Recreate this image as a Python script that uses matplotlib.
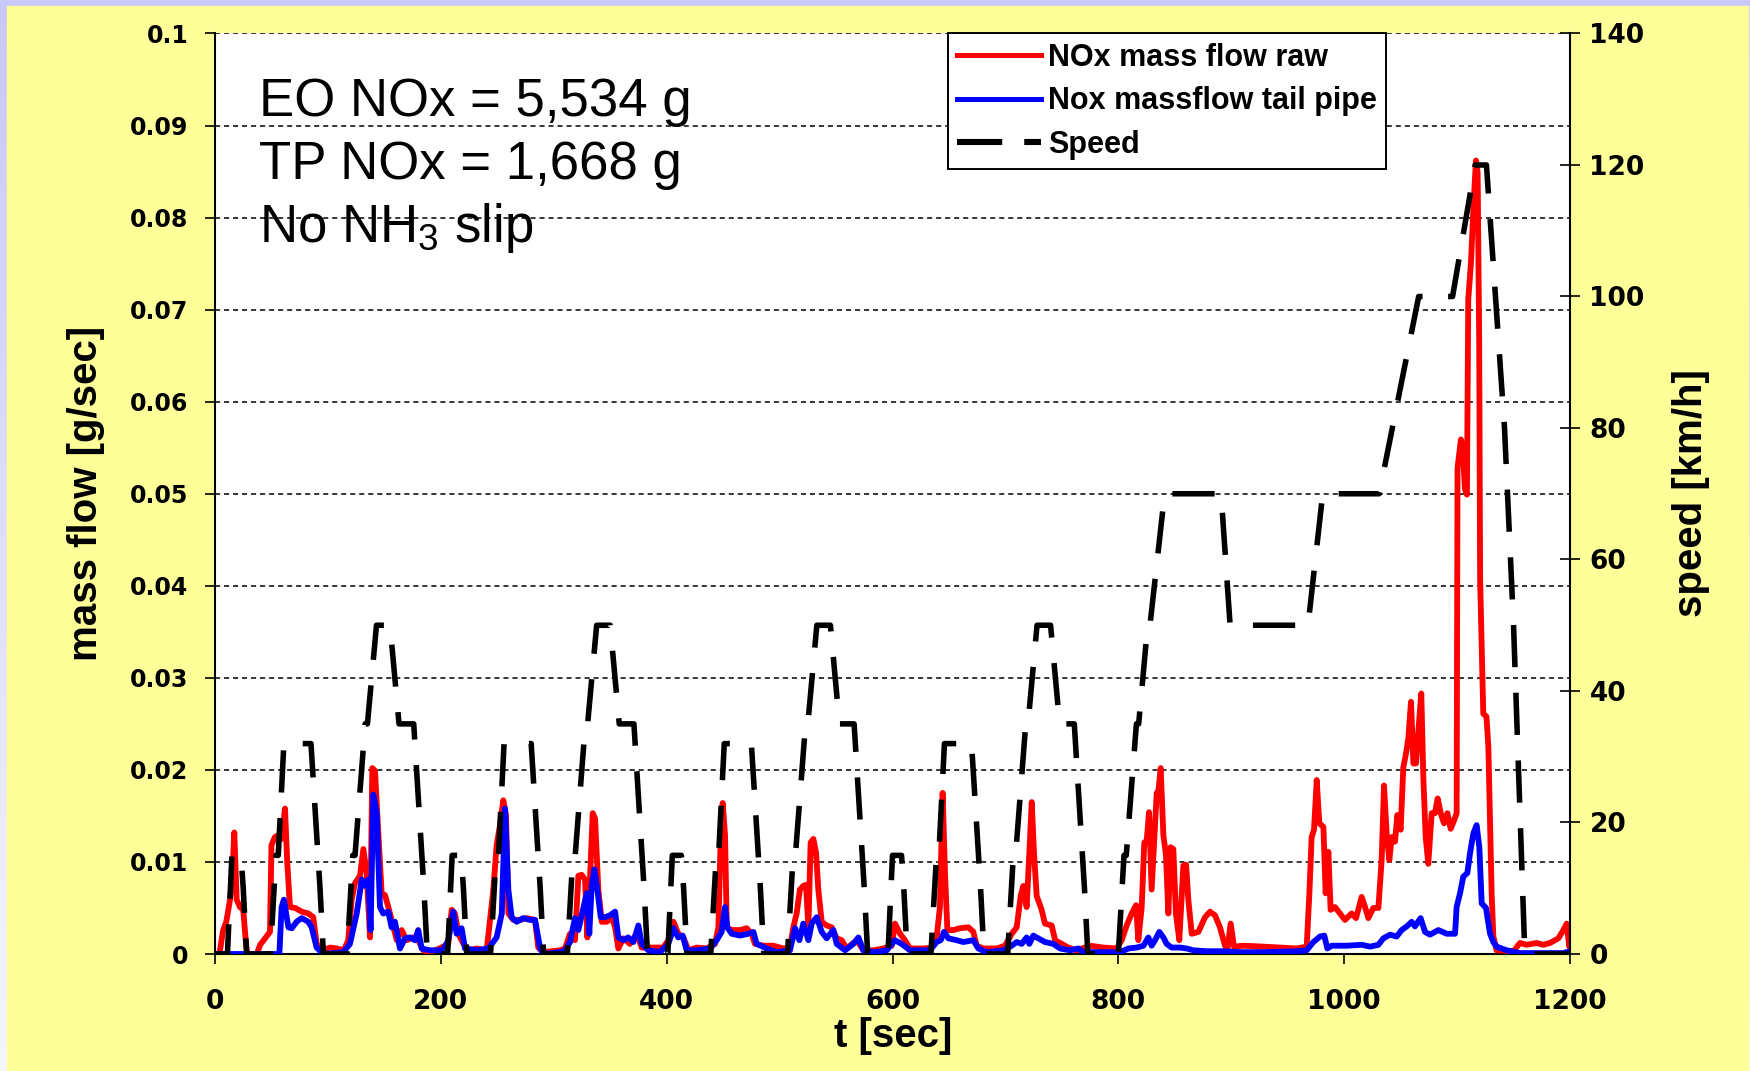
import numpy as np
import matplotlib
matplotlib.use("Agg")
import matplotlib.pyplot as plt
from matplotlib.patches import Rectangle
from matplotlib.lines import Line2D

# NOx mass flow upstream of the SCR (engine out): (t [s], g/s)
raw_points = [
    (0, 0), (4, 0), (7, 0.0025), (10, 0.0035), (13.3, 0.0059), (15.5, 0.0090), (17.1, 0.0132),
    (19.2, 0.0059), (22.1, 0.0051), (25, 0.0048), (27.2, 0.0015), (28.6, 0), (37, 0),
    (40, 0.0010), (44.3, 0.0017), (48.7, 0.0024), (50, 0.0118), (53, 0.0127), (56, 0.0129),
    (59, 0.0125), (62, 0.0158), (64, 0.0099), (66.4, 0.0051), (71, 0.0050), (76.7, 0.0046),
    (82.6, 0.0044), (87, 0.0040), (90, 0.0011), (94.5, 0.0004), (102, 0.0007), (108, 0.0006),
    (114, 0.0004), (118, 0.0015), (121, 0.0059), (124, 0.0077), (128.4, 0.0085),
    (131.4, 0.0114), (134.3, 0.0088), (137.3, 0.0018), (139.3, 0.0202), (141.7, 0.0199),
    (144.6, 0.0132), (147.6, 0.0066), (150.5, 0.0064), (153.5, 0.0051), (156.4, 0.0037),
    (161, 0.0015), (165.3, 0.0026), (169.7, 0.0015), (175.6, 0.0018), (180, 0.0015),
    (184.5, 0.0004), (190, 0.0002), (199, 0.0006), (206.6, 0.0011), (209.6, 0.0048),
    (212.5, 0.0044), (215.5, 0.0022), (220, 0.0011), (224.3, 0.0004), (232, 0.0006),
    (240.6, 0.0004), (246.5, 0.0070), (249.4, 0.0118), (252.4, 0.0140), (255.3, 0.0167),
    (257.7, 0.0151), (259.8, 0.0044), (264.2, 0.0037), (270, 0.0037), (276, 0.0039),
    (283.4, 0.0037), (286.3, 0.0007), (290.8, 0.0002), (305.5, 0.0004), (310, 0.0006),
    (314.4, 0.0022), (318.8, 0.0015), (321.8, 0.0085), (324.7, 0.0086), (327.7, 0.0081),
    (329.8, 0.0018), (332.1, 0.0081), (334.5, 0.0153), (336.6, 0.0147), (339.5, 0.0070),
    (342.5, 0.0035), (346.9, 0.0035), (351.3, 0.0040), (354.3, 0.0029), (357.2, 0.0006),
    (361.6, 0.0017), (367.5, 0.0011), (373.5, 0.0022), (377.9, 0.0007), (385.3, 0.0007),
    (397, 0.0007), (401.5, 0.0015), (406, 0.0035), (410.3, 0.0022), (414.8, 0.0018),
    (419.2, 0.0004), (426.6, 0.0007), (435.4, 0.0006), (442.8, 0.0011), (445.8, 0.0029),
    (447.8, 0.0125), (449.6, 0.0164), (451.7, 0.0129), (453.2, 0.0029), (457.6, 0.0026),
    (465, 0.0026), (470.9, 0.0028), (475.3, 0.0022), (478.2, 0.0011), (485.6, 0.0009),
    (494.5, 0.0009), (503.3, 0.0006), (509.2, 0.0007), (512.2, 0.0029), (515.1, 0.0044),
    (518, 0.0070), (521, 0.0074), (523.4, 0.0075), (525.5, 0.0029), (527.5, 0.0121),
    (529.9, 0.0125), (532.3, 0.0110), (534.3, 0.0070), (537.3, 0.0035), (541.7, 0.0031),
    (546.1, 0.0029), (550.6, 0.0017), (555, 0.0015), (559.4, 0.0006), (568.3, 0.0015),
    (574.2, 0.0004), (583, 0.0004), (592, 0.0006), (599.3, 0.0009), (602.2, 0.0033),
    (606.7, 0.0022), (611, 0.0015), (615.5, 0.0006), (627.3, 0.0006), (634.7, 0.0007),
    (639, 0.0017), (642, 0.0051), (644.4, 0.0175), (646.5, 0.0088), (648.6, 0.0026),
    (653.9, 0.0026), (659.8, 0.0028), (667.2, 0.0029), (671.6, 0.0024), (674.5, 0.0009),
    (680.5, 0.0006), (692.3, 0.0006), (699.6, 0.0009), (705.6, 0.0022), (710, 0.0029),
    (713.5, 0.0063), (715.9, 0.0074), (718.8, 0.0051), (721.2, 0.0110), (723.3, 0.0165),
    (725.3, 0.0110), (727.7, 0.0063), (732.1, 0.0048), (735, 0.0033), (741, 0.0031),
    (744, 0.0015), (749.8, 0.0011), (755.7, 0.0007), (763.1, 0.0004), (775, 0.0009),
    (786.7, 0.0007), (798.5, 0.0006), (803, 0.0015), (807.4, 0.0031), (811.8, 0.0044),
    (815.7, 0.0053), (817.7, 0.0015), (820.7, 0.0051), (823, 0.0121), (825.1, 0.0123),
    (827.2, 0.0154), (829.5, 0.0070), (831.9, 0.0125), (834, 0.0175), (835.4, 0.0176),
    (837.5, 0.0202), (839.9, 0.0129), (842.2, 0.0107), (844.3, 0.0044), (846.3, 0.0116),
    (848.7, 0.0114), (851, 0.0044), (854, 0.0015), (857.6, 0.0096), (860, 0.0097),
    (862, 0.0059), (865, 0.0022), (870.9, 0.0024), (876.8, 0.0040), (881.2, 0.0046),
    (885.6, 0.0042), (890, 0.0029), (894.5, 0.0009), (896.5, 0.0004), (899.5, 0.0033),
    (902.4, 0.0008), (910.7, 0.0009), (928.4, 0.0008), (943.2, 0.0007), (958, 0.0006),
    (966.8, 0.0008), (969.2, 0.0066), (971.2, 0.0127), (973.3, 0.0135), (975.7, 0.0189),
    (978, 0.0142), (981.6, 0.0138), (983.6, 0.0066), (986, 0.0111), (988, 0.0048),
    (991.9, 0.0051), (996.3, 0.0044), (1000.7, 0.0037), (1006.6, 0.0044), (1010.5, 0.0039),
    (1015.5, 0.0062), (1018.5, 0.0051), (1021.4, 0.0039), (1025.8, 0.0050), (1030.3, 0.0050),
    (1033.2, 0.0102), (1035.3, 0.0183), (1037.6, 0.0131), (1040, 0.0102), (1042.1, 0.0127),
    (1045, 0.0122), (1047.1, 0.0151), (1050, 0.0135), (1052.4, 0.0203), (1054.8, 0.0218),
    (1056.8, 0.0234), (1059.2, 0.0274), (1061.3, 0.0207), (1063.6, 0.0207), (1066, 0.0247),
    (1068.3, 0.0283), (1070.1, 0.0192), (1072.2, 0.0127), (1074.5, 0.0098), (1077.5, 0.0153),
    (1080.4, 0.0153), (1082.8, 0.0169), (1085.5, 0.0153), (1088.4, 0.0142), (1091.4, 0.0153),
    (1094.3, 0.0136), (1097.3, 0.0145), (1099.6, 0.0153), (1100.4, 0.0528), (1103.4, 0.0559),
    (1104.9, 0.0550), (1107, 0.0505), (1108.7, 0.0499), (1109.9, 0.0711), (1112.3, 0.0751),
    (1114.6, 0.0814), (1116.7, 0.0862), (1118.2, 0.0849), (1119.6, 0.0665), (1120.4, 0.0407),
    (1123.2, 0.0261), (1126, 0.0258), (1127.7, 0.0225), (1130.6, 0.0066), (1132.1, 0.0019),
    (1135, 0.0004), (1150, 0.0003), (1155.7, 0.0012), (1161.6, 0.0010), (1170.5, 0.0012),
    (1176.4, 0.0010), (1182.3, 0.0012), (1189.7, 0.0017), (1194.1, 0.0026), (1197, 0.0033),
    (1199.4, 0.0008), (1200, 0.0030),
]

# NOx mass flow at the tail pipe: (t [s], g/s)
tp_points = [
    (0, 0), (57, 0), (59, 0.0051), (61, 0.0059), (65, 0.0029), (68, 0.0028), (72.3, 0.0035),
    (76.7, 0.0039), (82.6, 0.0035), (85.6, 0.0029), (90, 0.0007), (96, 0), (113.6, 0.0002),
    (119.5, 0.0011), (125.5, 0.0044), (130, 0.0081), (132.8, 0.0074), (135.8, 0.0081),
    (137.8, 0.0026), (140.2, 0.0173), (143.2, 0.0154), (146.1, 0.0051), (149, 0.0044),
    (153.5, 0.0046), (156.4, 0.0029), (159.4, 0.0035), (163.8, 0.0006), (168.3, 0.0017),
    (172.7, 0.0018), (177, 0.0015), (180, 0.0026), (183, 0.0006), (190.4, 0.0004),
    (202, 0.0004), (206.6, 0.0015), (211, 0.0046), (214, 0.0022), (218.4, 0.0028),
    (221.4, 0.0006), (232, 0.0004), (242, 0.0006), (249.4, 0.0018), (254, 0.0044),
    (256.8, 0.0158), (259.8, 0.0070), (262.7, 0.0040), (267.2, 0.0035), (273, 0.0039),
    (279, 0.0037), (283.4, 0.0037), (288, 0.0006), (290.8, 0), (305.5, 0.0002), (310, 0.0004),
    (314.4, 0.0013), (318.8, 0.0039), (321.8, 0.0026), (326.2, 0.0050), (329.2, 0.0066),
    (331.5, 0.0022), (333.6, 0.0074), (336, 0.0092), (338.6, 0.0070), (341.6, 0.0040),
    (345.4, 0.0040), (349.8, 0.0042), (354.3, 0.0046), (357.2, 0.0018), (361.6, 0.0015),
    (366, 0.0018), (370.5, 0.0013), (374.9, 0.0031), (377.9, 0.0011), (383.8, 0.0004),
    (394, 0.0002), (401.5, 0.0011), (406, 0.0028), (410.3, 0.0018), (414.2, 0.0020),
    (417.7, 0.0004), (426.6, 0.0004), (438.4, 0.0006), (444.3, 0.0015), (448.7, 0.0024),
    (451.7, 0.0051), (453.7, 0.0029), (457.6, 0.0022), (465, 0.0020), (472.3, 0.0022),
    (476.8, 0.0024), (479.7, 0.0011), (488.6, 0.0006), (497.4, 0.0002), (509.2, 0.0004),
    (513.7, 0.0028), (517.5, 0.0015), (521, 0.0033), (525.5, 0.0015), (528.4, 0.0033),
    (532.9, 0.0040), (537.3, 0.0024), (541.7, 0.0017), (547.6, 0.0026), (550.6, 0.0011),
    (558, 0.0004), (565.3, 0.0011), (569.8, 0.0018), (574.2, 0.0004), (584.5, 0.0002),
    (594.9, 0.0004), (602.2, 0.0015), (608, 0.0011), (615.5, 0.0004), (633.2, 0.0004),
    (639, 0.0013), (642.7, 0.0015), (645.6, 0.0024), (649.5, 0.0017), (656.8, 0.0015),
    (662.7, 0.0013), (671.6, 0.0015), (676, 0.0006), (683.4, 0.0002), (698.2, 0.0004),
    (705.6, 0.0009), (710, 0.0013), (714.4, 0.0011), (718.8, 0.0018), (721.2, 0.0011),
    (724.7, 0.0020), (729.2, 0.0017), (735, 0.0013), (742.4, 0.0011), (748.4, 0.0006),
    (757.2, 0.0004), (764.6, 0.0006), (769, 0.0002), (786.7, 0.0002), (801.5, 0.0002),
    (809, 0.0006), (816.2, 0.0007), (822.2, 0.0009), (826.6, 0.0018), (829.5, 0.0009),
    (832.5, 0.0015), (836.3, 0.0024), (839.9, 0.0018), (842.8, 0.0011), (847.2, 0.0007),
    (854.6, 0.0007), (860.5, 0.0006), (866.4, 0.0004), (878.2, 0.0003), (893, 0.0003),
    (907.7, 0.0002), (928.4, 0.0002), (958, 0.0003), (966.8, 0.0004), (972.7, 0.0013),
    (978.6, 0.0019), (982.4, 0.0020), (985.1, 0.0006), (988.9, 0.0009), (1002.2, 0.0009),
    (1015.5, 0.0010), (1022.9, 0.0008), (1030.3, 0.0010), (1034.7, 0.0017), (1040.6, 0.0021),
    (1046.5, 0.0019), (1050.9, 0.0026), (1055.4, 0.0030), (1059.8, 0.0035), (1062.7, 0.0030),
    (1067.7, 0.0039), (1071.6, 0.0024), (1076, 0.0021), (1083.4, 0.0026), (1090.8, 0.0022),
    (1098.2, 0.0022), (1099.6, 0.0051), (1102.6, 0.0066), (1105.5, 0.0084), (1109.1, 0.0088),
    (1111.4, 0.0109), (1114.4, 0.0131), (1117.3, 0.0140), (1119.7, 0.0116), (1121.8, 0.0055),
    (1125.6, 0.0050), (1129.2, 0.0022), (1132.1, 0.0013), (1135, 0.0008), (1143.9, 0.0004),
    (1155.7, 0.0001), (1194, 0.0001), (1200, 0.0003),
]

# Vehicle speed over the NEDC (4x ECE + EUDC): (t [s], km/h)
speed_points = [
    (0, 0), (11, 0), (15, 15), (23, 15), (25, 10), (28, 0), (49, 0), (54, 15), (56, 15),
    (61, 32), (85, 32), (93, 10), (96, 0), (117, 0), (122, 15), (124, 15), (133, 35),
    (135, 35), (143, 50), (155, 50), (163, 35), (176, 35), (185, 10), (188, 0),
    (195, 0), (206, 0), (210, 15), (218, 15), (220, 10), (223, 0), (244, 0), (249, 15),
    (251, 15), (256, 32), (280, 32), (288, 10), (291, 0), (312, 0), (317, 15), (319, 15),
    (328, 35), (330, 35), (338, 50), (350, 50), (358, 35), (371, 35), (380, 10), (383, 0),
    (390, 0), (401, 0), (405, 15), (413, 15), (415, 10), (418, 0), (439, 0), (444, 15),
    (446, 15), (451, 32), (475, 32), (483, 10), (486, 0), (507, 0), (512, 15), (514, 15),
    (523, 35), (525, 35), (533, 50), (545, 50), (553, 35), (566, 35), (575, 10), (578, 0),
    (585, 0), (596, 0), (600, 15), (608, 15), (610, 10), (613, 0), (634, 0), (639, 15),
    (641, 15), (646, 32), (670, 32), (678, 10), (681, 0), (702, 0), (707, 15), (709, 15),
    (718, 35), (720, 35), (728, 50), (740, 50), (748, 35), (761, 35), (770, 10), (773, 0),
    (780, 0), (800, 0), (805, 15), (807, 15), (816, 35), (818, 35), (826, 50), (828, 50),
    (841, 70), (891, 70), (899, 50), (968, 50), (981, 70), (1031, 70), (1066, 100),
    (1096, 100), (1116, 120), (1126, 120), (1142, 80), (1150, 50), (1160, 0), (1200, 0),
]

flow_ticks = [0, 0.01, 0.02, 0.03, 0.04, 0.05, 0.06, 0.07, 0.08, 0.09, 0.1]
speed_ticks = [0, 20, 40, 60, 80, 100, 120, 140]
time_ticks = [0, 200, 400, 600, 800, 1000, 1200]

summary = ["EO NOx = 5,534 g", "TP NOx = 1,668 g", "No NH$_\\mathregular{3}$ slip"]
labels = ["NOx mass flow raw", "Nox massflow tail pipe", "Speed"]

t_raw, nox_raw = zip(*raw_points)
t_tp, nox_tp = zip(*tp_points)
t_speed, speed = zip(*speed_points)

W, H = 1750, 1071
plt.rcParams["mathtext.fontset"] = "custom"
plt.rcParams["mathtext.rm"] = "Liberation Sans"

SPEED_DASH = (0, (7.6, 4.6))

fig = plt.figure(figsize=(W / 100, H / 100), dpi=100)

# slide background: lavender gradient with the yellow panel on top
bg = fig.add_axes([0, 0, 1, 1], zorder=-10)
grad = np.linspace(0, 1, 256)[:, None, None]
top_c = np.array([200, 200, 250]) / 255
bot_c = np.array([246, 246, 255]) / 255
bg.imshow(top_c + grad * (bot_c - top_c), aspect="auto", extent=[0, 1, 0, 1])
bg.add_patch(Rectangle((7 / W, 0), 1741 / W, (H - 6) / H, color="#FFFF99", zorder=2))
bg.set_xlim(0, 1)
bg.set_ylim(0, 1)
bg.axis("off")

ax = fig.add_axes([215 / W, 117 / H, 1355 / W, 920.5 / H])
ax.set_facecolor("white")
ax.plot(t_raw, nox_raw, color="#FF0000", lw=4.2, solid_joinstyle="round", zorder=3)
ax.plot(t_tp, nox_tp, color="#0000FF", lw=4.2, solid_joinstyle="round", zorder=4)
ax.set_xlim(0, 1200)
ax.set_ylim(0, 0.1)
ax.set_yticks(flow_ticks)
ax.set_yticklabels([f"{v:g}" for v in flow_ticks])
ax.set_xticks(time_ticks)
for v in flow_ticks[1:]:
    ax.axhline(v, color="black", lw=1.1, ls=(0, (3.3, 2.6)), zorder=1)
ax.spines["top"].set_visible(False)
ax.spines["right"].set_visible(False)
for s in ("left", "bottom"):
    ax.spines[s].set_linewidth(1.5)
ax.tick_params(axis="y", direction="out", length=7, width=1.2, pad=12, labelsize=17)
ax.tick_params(axis="x", direction="out", length=7, width=1.2, pad=18, labelsize=19)
for lbl in ax.get_xticklabels() + ax.get_yticklabels():
    lbl.set_fontweight("bold")

ax2 = ax.twinx()
ax2.plot(t_speed, speed, color="black", lw=4.0, ls=SPEED_DASH,
         dash_capstyle="butt", zorder=5)
ax2.set_ylim(0, 140)
ax2.set_yticks(speed_ticks)
for s in ("top", "left", "bottom"):
    ax2.spines[s].set_visible(False)
ax2.spines["right"].set_linewidth(1.5)
ax2.tick_params(axis="y", direction="inout", length=14, width=1.2, pad=7, labelsize=19)
for lbl in ax2.get_yticklabels():
    lbl.set_fontweight("bold")

label_font = dict(family="Liberation Sans", weight="bold", size=29)
fig.text(86 / W, 1 - 493 / H, "mass flow [g/sec]", rotation=90, ha="center", va="center",
         **label_font)
fig.text(1691 / W, 1 - 493 / H, "speed [km/h]", rotation=90, ha="center", va="center",
         **label_font)
fig.text(893 / W, 1 - 1036 / H, "t [sec]", ha="center", va="center", **label_font)

for i, line in enumerate(summary):
    fig.text(259 / W, 1 - (116 + 63 * i) / H, line, ha="left", va="baseline",
             family="Liberation Sans", size=38)

handles = [Line2D([], [], color="#FF0000", lw=3.6),
           Line2D([], [], color="#0000FF", lw=3.6),
           Line2D([], [], color="black", lw=4.4, ls=(0, (7.4, 3.6)), dash_capstyle="butt")]
leg = ax2.legend(handles, labels, loc="upper left", bbox_to_anchor=((948 - 215) / 1355, 1.0),
                 borderaxespad=0, fancybox=False, framealpha=1, edgecolor="black",
                 prop=dict(family="Liberation Sans", weight="bold", size=22),
                 handlelength=2.75, handletextpad=0.22, labelspacing=0.45, borderpad=0.3)
leg.get_frame().set_linewidth(1.4)
leg.set_zorder(10)

fig.savefig("out.png", dpi=100)
